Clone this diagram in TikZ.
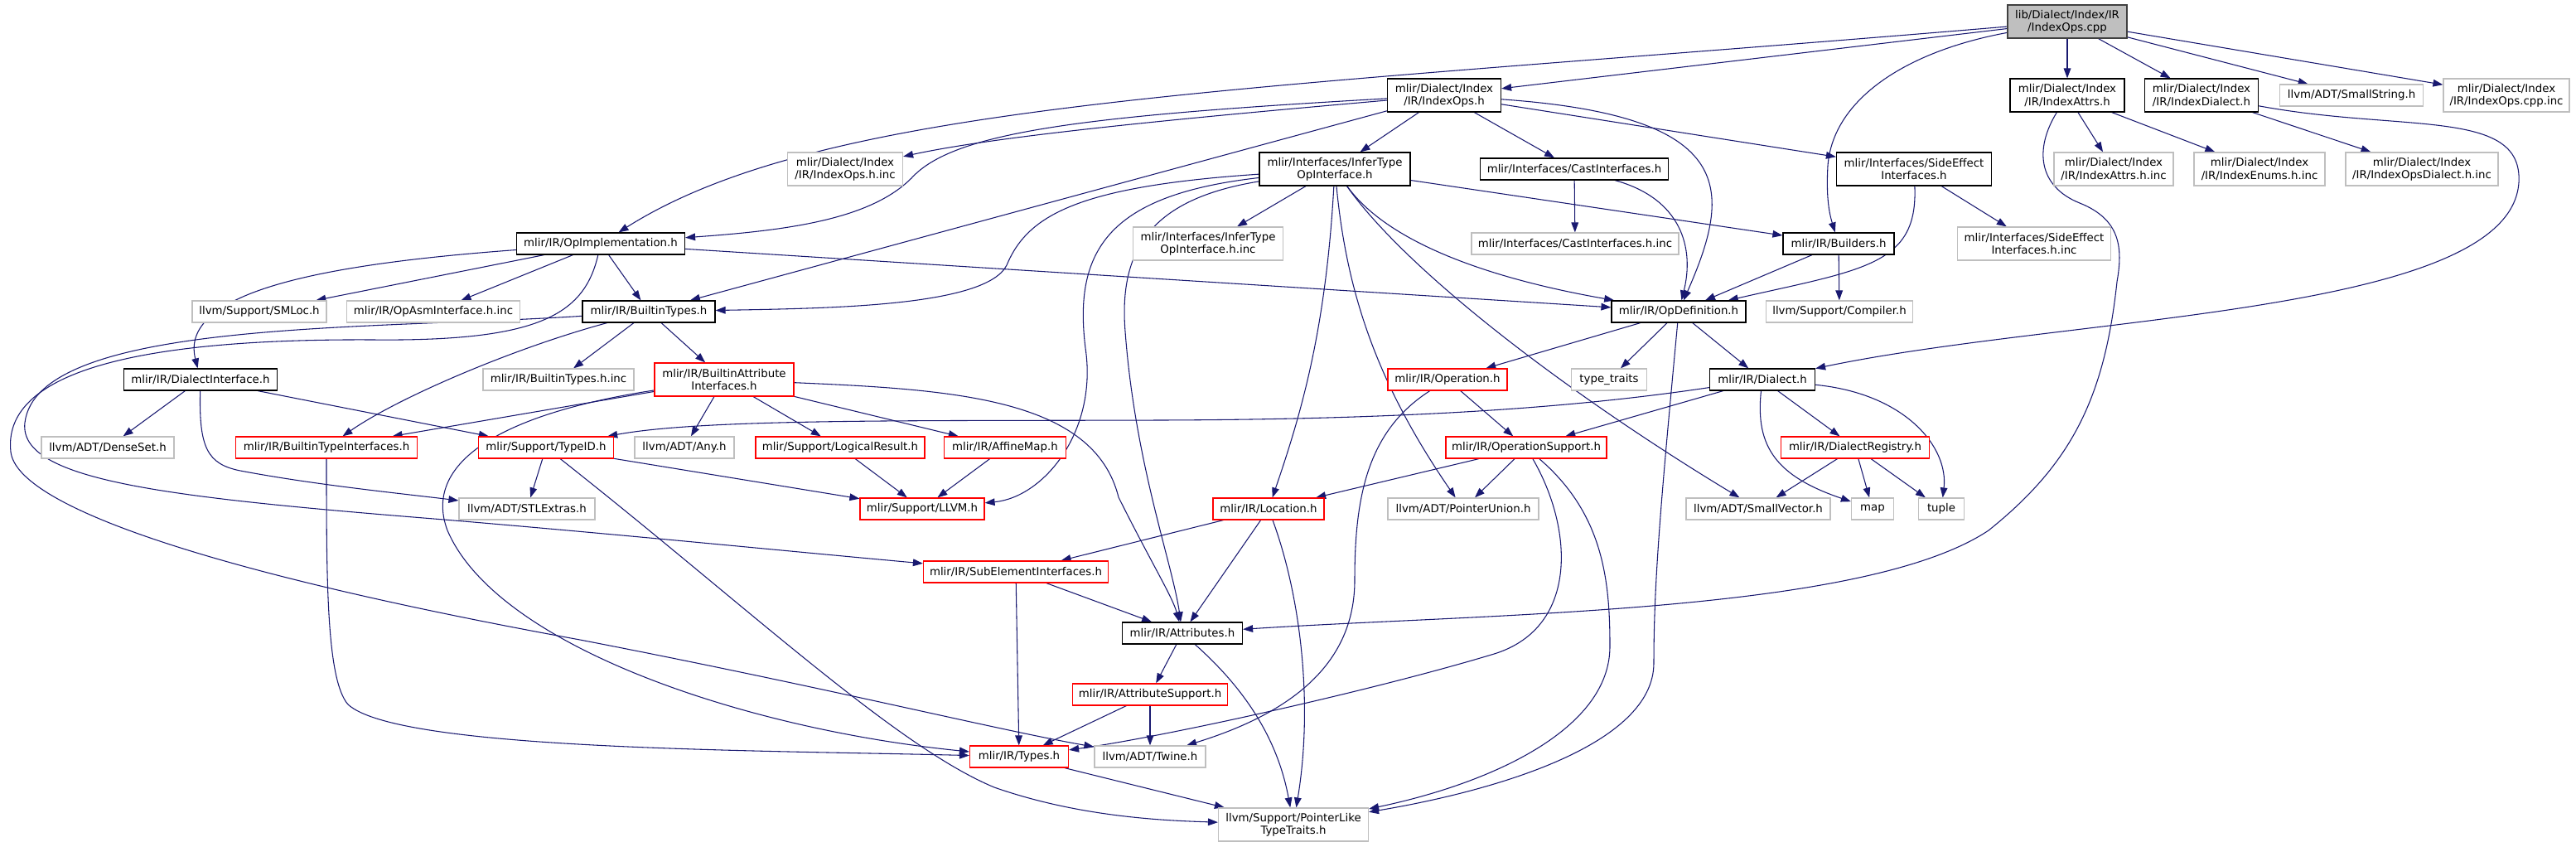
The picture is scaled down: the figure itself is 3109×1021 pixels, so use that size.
\documentclass[tikz,border=0pt]{standalone}
\usepackage{fontspec}
\setmainfont{DejaVu Sans}
\usetikzlibrary{arrows.meta,backgrounds}
\definecolor{edgec}{HTML}{191970}
\definecolor{grayb}{HTML}{BFBFBF}
\definecolor{redb}{HTML}{FF0000}
\definecolor{rootb}{HTML}{404040}
\begin{document}
\begin{tikzpicture}[x=0.75pt,y=-0.75pt,
  box/.style={rectangle, inner sep=0pt, align=center, font=\fontsize{10pt}{11.5pt}\selectfont, line width=0.9pt, fill=white},
  nb/.style={box, draw=black},
  ng/.style={box, draw=grayb},
  nr/.style={box, draw=redb},
  nroot/.style={box, draw=rootb, fill=grayb},
  sz/.style 2 args={minimum width=#1*0.75pt, minimum height=#2*0.75pt},
  e/.style={draw=edgec, line width=0.8pt, -{Triangle[length=9pt,width=6.5pt]}}
]
\useasboundingbox (0,0) rectangle (3109,1021);

\node[nroot, sz={144}{40}] (root) at (2495,26) {lib/Dialect/Index/IR\\/IndexOps.cpp};
\node[nb, sz={137}{40}] (IOh) at (1743,115) {mlir/Dialect/Index\\/IR/IndexOps.h};
\node[nb, sz={138}{40}] (IAh) at (2495,115) {mlir/Dialect/Index\\/IR/IndexAttrs.h};
\node[nb, sz={137}{40}] (IDh) at (2657,115) {mlir/Dialect/Index\\/IR/IndexDialect.h};
\node[ng, sz={173}{26}] (SS) at (2838,115) {llvm/ADT/SmallString.h};
\node[ng, sz={152}{40}] (IOcppinc) at (3025,115) {mlir/Dialect/Index\\/IR/IndexOps.cpp.inc};
\node[ng, sz={139}{40}] (IOhinc) at (1020,204) {mlir/Dialect/Index\\/IR/IndexOps.h.inc};
\node[nb, sz={182}{40}] (ITOI) at (1611,204) {mlir/Interfaces/InferType\\OpInterface.h};
\node[nb, sz={227}{26}] (Cast) at (1900,204) {mlir/Interfaces/CastInterfaces.h};
\node[nb, sz={187}{40}] (SE) at (2310,204) {mlir/Interfaces/SideEffect\\Interfaces.h};
\node[ng, sz={144}{40}] (IAinc) at (2551,204) {mlir/Dialect/Index\\/IR/IndexAttrs.h.inc};
\node[ng, sz={158}{40}] (IEinc) at (2727,204) {mlir/Dialect/Index\\/IR/IndexEnums.h.inc};
\node[ng, sz={184}{40}] (IODinc) at (2923,204) {mlir/Dialect/Index\\/IR/IndexOpsDialect.h.inc};
\node[nb, sz={203}{26}] (OpI) at (725,294) {mlir/IR/OpImplementation.h};
\node[ng, sz={181}{40}] (ITOIinc) at (1458,294) {mlir/Interfaces/InferType\\OpInterface.h.inc};
\node[ng, sz={250}{26}] (Castinc) at (1901,294) {mlir/Interfaces/CastInterfaces.h.inc};
\node[nb, sz={134}{26}] (Bld) at (2219,294) {mlir/IR/Builders.h};
\node[ng, sz={185}{40}] (SEinc) at (2455,294) {mlir/Interfaces/SideEffect\\Interfaces.h.inc};
\node[ng, sz={162}{26}] (SMLoc) at (313,376) {llvm/Support/SMLoc.h};
\node[ng, sz={209}{26}] (OpAsm) at (523,376) {mlir/IR/OpAsmInterface.h.inc};
\node[nb, sz={160}{26}] (BT) at (783,376) {mlir/IR/BuiltinTypes.h};
\node[nb, sz={162}{26}] (OpD) at (2026,376) {mlir/IR/OpDefinition.h};
\node[ng, sz={177}{26}] (Comp) at (2220,376) {llvm/Support/Compiler.h};
\node[nb, sz={185}{26}] (DI) at (242,458) {mlir/IR/DialectInterface.h};
\node[ng, sz={182}{26}] (BTinc) at (674,458) {mlir/IR/BuiltinTypes.h.inc};
\node[nr, sz={168}{40}] (BAI) at (874,458) {mlir/IR/BuiltinAttribute\\Interfaces.h};
\node[nr, sz={144}{26}] (Operation) at (1747,458) {mlir/IR/Operation.h};
\node[ng, sz={91}{26}] (tt) at (1942,458) {type\_traits};
\node[nb, sz={127}{26}] (Dialect) at (2127,458) {mlir/IR/Dialect.h};
\node[ng, sz={160}{26}] (DenseSet) at (130,540) {llvm/ADT/DenseSet.h};
\node[nr, sz={219}{26}] (BTI) at (394,540) {mlir/IR/BuiltinTypeInterfaces.h};
\node[nr, sz={163}{26}] (TypeID) at (659,540) {mlir/Support/TypeID.h};
\node[ng, sz={120}{26}] (Any) at (826,540) {llvm/ADT/Any.h};
\node[nr, sz={204}{26}] (LR) at (1014,540) {mlir/Support/LogicalResult.h};
\node[nr, sz={147}{26}] (AM) at (1213,540) {mlir/IR/AffineMap.h};
\node[nr, sz={194}{26}] (OS) at (1842,540) {mlir/IR/OperationSupport.h};
\node[nr, sz={179}{26}] (DR) at (2239,540) {mlir/IR/DialectRegistry.h};
\node[ng, sz={164}{26}] (STL) at (636,614) {llvm/ADT/STLExtras.h};
\node[nr, sz={150}{26}] (LLVM) at (1113,614) {mlir/Support/LLVM.h};
\node[nr, sz={134}{26}] (Loc) at (1531,614) {mlir/IR/Location.h};
\node[ng, sz={182}{26}] (PU) at (1766,614) {llvm/ADT/PointerUnion.h};
\node[ng, sz={174}{26}] (SV) at (2122,614) {llvm/ADT/SmallVector.h};
\node[ng, sz={51}{26}] (mapn) at (2260,614) {map};
\node[ng, sz={55}{26}] (tuplen) at (2343,614) {tuple};
\node[nr, sz={223}{26}] (SubE) at (1226,690) {mlir/IR/SubElementInterfaces.h};
\node[nb, sz={145}{26}] (Attr) at (1427,764) {mlir/IR/Attributes.h};
\node[nr, sz={187}{26}] (AS) at (1388,838) {mlir/IR/AttributeSupport.h};
\node[nr, sz={119}{26}] (Types) at (1230,913) {mlir/IR/Types.h};
\node[ng, sz={134}{26}] (Twine) at (1388,913) {llvm/ADT/Twine.h};
\node[ng, sz={181}{40}] (PLTT) at (1561,995) {llvm/Support/PointerLike\\TypeTraits.h};

\begin{pgfonlayer}{background}
% root
\draw[e] (root) -- (IOh);
\draw[e] (root) .. controls (1500,110) and (1000,120) .. (OpI);
\draw[e] (root) .. controls (2300,62) and (2212,120) .. (2206,200) .. controls (2204,235) and (2207,255) .. (Bld);
\draw[e] (root) -- (IAh);
\draw[e] (root) -- (IDh);
\draw[e] (root) -- (SS);
\draw[e] (root) -- (IOcppinc);
% IndexOps.h
\draw[e] (IOh) .. controls (1400,145) and (1200,165) .. (IOhinc);
\draw[e] (IOh) .. controls (1300,140) and (1150,160) .. (1100,215) .. controls (1050,265) and (950,278) .. (OpI);
\draw[e] (IOh) -- (ITOI);
\draw[e] (IOh) -- (Cast);
\draw[e] (IOh) -- (SE);
\draw[e] (IOh) -- (BT);
\draw[e] (IOh) .. controls (2100,140) and (2090,230) .. (OpD);
% InferTypeOpInterface
\draw[e] (ITOI) -- (ITOIinc);
\draw[e] (ITOI) .. controls (1300,225) and (1240,260) .. (1215,320) .. controls (1190,370) and (1000,372) .. (BT);
\draw[e] (ITOI) .. controls (1680,300) and (1820,340) .. (OpD);
\draw[e] (ITOI) -- (Bld);
\draw[e] (ITOI) .. controls (1600,400) and (1570,500) .. (Loc);
\draw[e] (ITOI) .. controls (1390,240) and (1350,300) .. (1358,400) .. controls (1370,560) and (1415,680) .. (Attr);
\draw[e] (ITOI) .. controls (1340,235) and (1295,300) .. (1310,420) .. controls (1325,520) and (1260,600) .. (LLVM);
\draw[e] (ITOI) .. controls (1625,350) and (1660,460) .. (PU);
\draw[e] (ITOI) .. controls (1700,330) and (1900,480) .. (SV);
% Cast, SideEffect, Builders
\draw[e] (Cast) -- (Castinc);
\draw[e] (Cast) .. controls (2030,240) and (2045,300) .. (OpD);
\draw[e] (SE) -- (SEinc);
\draw[e] (SE) .. controls (2315,320) and (2250,325) .. (OpD);
\draw[e] (Bld) -- (OpD);
\draw[e] (Bld) -- (Comp);
% OpImplementation
\draw[e] (OpI) -- (SMLoc);
\draw[e] (OpI) -- (OpAsm);
\draw[e] (OpI) -- (BT);
\draw[e] (OpI) -- (OpD);
\draw[e] (OpI) .. controls (400,318) and (215,350) .. (DI);
\draw[e] (OpI) .. controls (705,380) and (650,412) .. (450,410) .. controls (100,408) and (5,470) .. (13,545) .. controls (20,610) and (250,690) .. (700,772) .. controls (1000,830) and (1200,880) .. (Twine);
% BuiltinTypes
\draw[e] (BT) .. controls (450,398) and (45,385) .. (30,510) .. controls (22,580) and (200,600) .. (536,627) .. controls (750,645) and (950,665) .. (SubE);
\draw[e] (BT) -- (BTinc);
\draw[e] (BT) -- (BAI);
\draw[e] (BT) .. controls (620,420) and (480,480) .. (BTI);
% BuiltinAttributeInterfaces
\draw[e] (BAI) -- (BTI);
\draw[e] (BAI) .. controls (600,500) and (510,560) .. (540,640) .. controls (600,780) and (900,880) .. (Types);
\draw[e] (BAI) -- (Any);
\draw[e] (BAI) -- (LR);
\draw[e] (BAI) -- (AM);
\draw[e] (BAI) .. controls (1150,470) and (1320,480) .. (1350,600) .. controls (1390,680) and (1415,720) .. (Attr);
% DialectInterface
\draw[e] (DI) -- (DenseSet);
\draw[e] (DI) -- (TypeID);
\draw[e] (DI) .. controls (240,540) and (250,560) .. (290,568) .. controls (380,585) and (480,595) .. (STL);
% TypeID
\draw[e] (TypeID) -- (STL);
\draw[e] (TypeID) -- (LLVM);
\draw[e] (TypeID) .. controls (900,730) and (1080,900) .. (1200,950) .. controls (1300,985) and (1400,990) .. (PLTT);
% BuiltinTypeInterfaces, LogicalResult, AffineMap
\draw[e] (BTI) .. controls (394,700) and (394,820) .. (420,850) .. controls (480,905) and (900,905) .. (Types);
\draw[e] (LR) -- (LLVM);
\draw[e] (AM) -- (LLVM);
% OpDefinition
\draw[e] (OpD) -- (Operation);
\draw[e] (OpD) -- (tt);
\draw[e] (OpD) -- (Dialect);
\draw[e] (OpD) .. controls (2005,600) and (1996,700) .. (1996,800) .. controls (1996,900) and (1800,955) .. (PLTT);
% Operation
\draw[e] (Operation) -- (OS);
\draw[e] (Operation) .. controls (1650,520) and (1635,600) .. (1635,700) .. controls (1635,800) and (1560,860) .. (Twine);
% Dialect
\draw[e] (Dialect) -- (OS);
\draw[e] (Dialect) .. controls (1900,492) and (1700,506) .. (1400,507) .. controls (1100,508) and (850,505) .. (TypeID);
\draw[e] (Dialect) -- (DR);
\draw[e] (Dialect) .. controls (2118,540) and (2145,575) .. (mapn);
\draw[e] (Dialect) .. controls (2300,475) and (2352,540) .. (tuplen);
% DialectRegistry
\draw[e] (DR) -- (SV);
\draw[e] (DR) -- (mapn);
\draw[e] (DR) -- (tuplen);
% OperationSupport
\draw[e] (OS) -- (Loc);
\draw[e] (OS) -- (PU);
\draw[e] (OS) .. controls (1900,640) and (1905,760) .. (1800,790) .. controls (1650,835) and (1400,890) .. (Types);
\draw[e] (OS) .. controls (1935,620) and (1943,700) .. (1943,780) .. controls (1943,880) and (1800,945) .. (PLTT);
% Location
\draw[e] (Loc) -- (SubE);
\draw[e] (Loc) -- (Attr);
\draw[e] (Loc) .. controls (1570,720) and (1585,850) .. (PLTT);
% SubElementInterfaces
\draw[e] (SubE) -- (Attr);
\draw[e] (SubE) -- (Types);
% Attributes
\draw[e] (Attr) -- (AS);
\draw[e] (Attr) .. controls (1490,820) and (1540,880) .. (PLTT);
% AttributeSupport, Types
\draw[e] (AS) -- (Types);
\draw[e] (AS) -- (Twine);
\draw[e] (Types) -- (PLTT);
% IndexAttrs.h
\draw[e] (IAh) -- (IAinc);
\draw[e] (IAh) -- (IEinc);
\draw[e] (IAh) .. controls (2455,180) and (2460,225) .. (2510,245) .. controls (2560,265) and (2562,300) .. (2555,340) .. controls (2540,480) and (2500,560) .. (2400,640) .. controls (2250,740) and (1800,740) .. (Attr);
% IndexDialect.h
\draw[e] (IDh) -- (IODinc);
\draw[e] (IDh) .. controls (2900,160) and (3045,130) .. (3040,220) .. controls (3030,380) and (2500,380) .. (Dialect);
\end{pgfonlayer}
\end{tikzpicture}
\end{document}
